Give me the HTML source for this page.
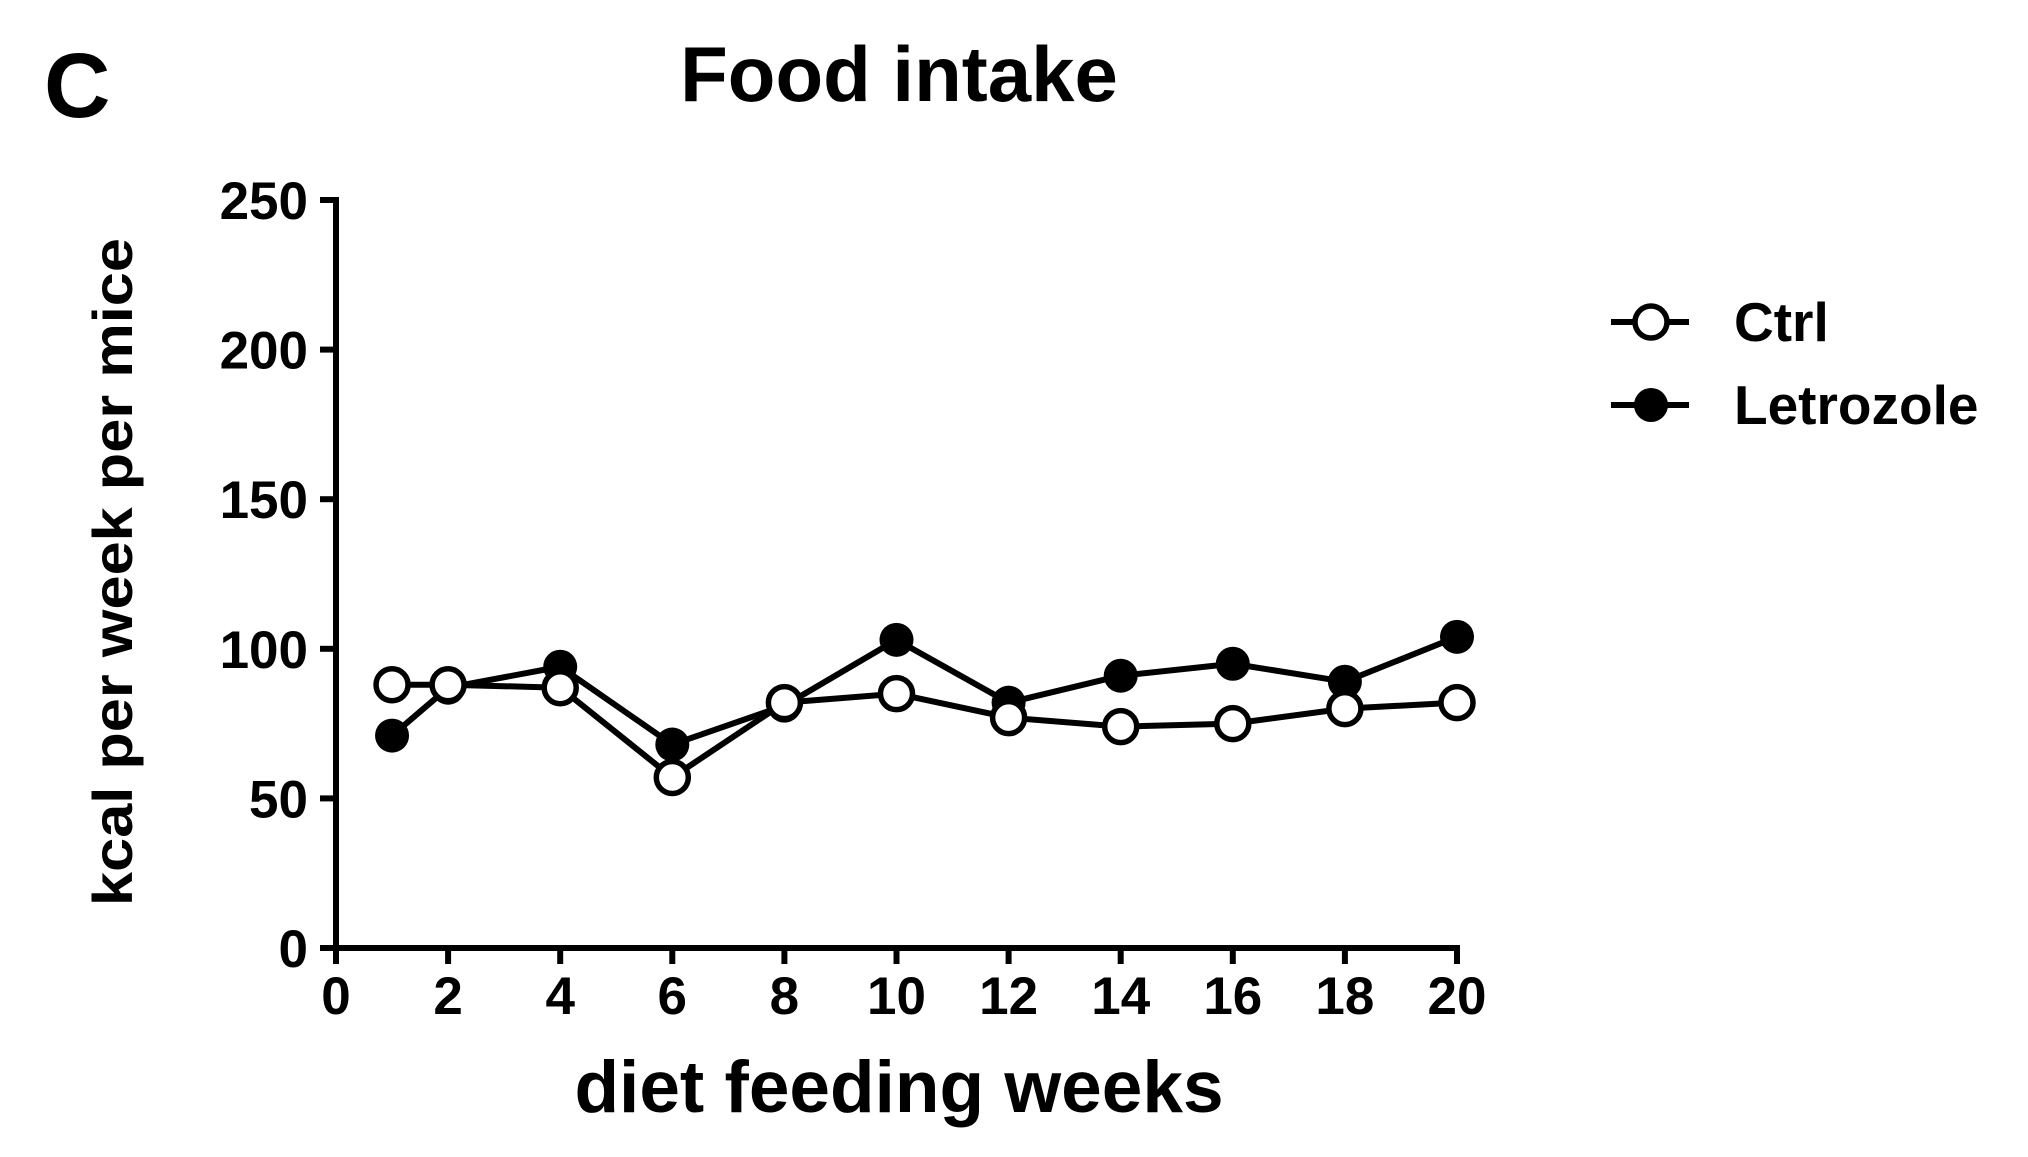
<!DOCTYPE html>
<html><head><meta charset="utf-8"><style>
html,body{margin:0;padding:0;background:#fff}
svg{display:block}
text{font-family:"Liberation Sans",Arial,sans-serif;font-weight:bold;fill:#000}
</style></head><body>
<svg id="chart" width="2028" height="1157" viewBox="0 0 2028 1157" xmlns="http://www.w3.org/2000/svg">
<text x="44" y="117" font-size="92">C</text>
<text x="899" y="101" font-size="78" text-anchor="middle">Food intake</text>
<text transform="translate(132,572) rotate(-90)" font-size="56" text-anchor="middle" textLength="668" lengthAdjust="spacingAndGlyphs">kcal per week per mice</text>
<text x="899" y="1112" font-size="73" text-anchor="middle">diet feeding weeks</text>
<g id="axes"></g><g id="series"></g>
<g>
<line x1="1611" y1="322" x2="1689" y2="322" stroke="#000" stroke-width="6"/>
<circle cx="1651" cy="322" r="16" fill="#fff" stroke="#000" stroke-width="5.5"/>
<text x="1734" y="341" font-size="55">Ctrl</text>
<line x1="1611" y1="405" x2="1689" y2="405" stroke="#000" stroke-width="6"/>
<circle cx="1651" cy="405" r="17" fill="#000"/>
<text x="1734" y="424" font-size="55">Letrozole</text>
</g>
</svg>
<script>
const weeks=[1,2,4,6,8,10,12,14,16,18,20];
const ctrlValues=[88,88,87,57,82,85,77,74,75,80,82];
const letrozoleValues=[71,87,94,68,81,103,82,91,95,89,104];
const xTicks=[0,2,4,6,8,10,12,14,16,18,20];
const yTicks=[0,50,100,150,200,250];
const NS="http://www.w3.org/2000/svg";
const X0=336,X1=1457,Y0=948,Y1=200;
const sx=v=>X0+(v-0)/20*(X1-X0);
const sy=v=>Y0-(v/250)*(Y0-Y1);
function mk(t,a,p){const e=document.createElementNS(NS,t);for(const k in a)e.setAttribute(k,a[k]);p.appendChild(e);return e;}
const ax=document.getElementById('axes');
let e=mk('line',{x1:X0,y1:Y1-3,x2:X0,y2:Y0+3,stroke:'#000','stroke-width':6},ax);


e=mk('line',{x1:X0-3,y1:Y0,x2:X1+3,y2:Y0,stroke:'#000','stroke-width':6},ax);


yTicks.forEach(v=>{
 const t=mk('line',{x1:X0-16,y1:sy(v),x2:X0,y2:sy(v),stroke:'#000','stroke-width':6},ax);
 
 
 const l=mk('text',{x:X0-28,y:sy(v)+19,'font-size':53,'text-anchor':'end'},ax);l.textContent=v;
 
 
});
xTicks.forEach(v=>{
 const t=mk('line',{x1:sx(v),y1:Y0,x2:sx(v),y2:Y0+16,stroke:'#000','stroke-width':6},ax);
 
 
 const l=mk('text',{x:sx(v),y:Y0+66,'font-size':53,'text-anchor':'middle'},ax);l.textContent=v;
 
 
});
const sg=document.getElementById('series');
function series(vals,name,filled){
 const pts=weeks.map((w,i)=>sx(w)+','+sy(vals[i])).join(' ');
 const pl=mk('polyline',{points:pts,fill:'none',stroke:'#000','stroke-width':6,'stroke-linejoin':'round'},sg);
 
 
 return ()=>weeks.forEach((w,i)=>{
  const c=filled?mk('circle',{cx:sx(w),cy:sy(vals[i]),r:17,fill:'#000'},sg):mk('circle',{cx:sx(w),cy:sy(vals[i]),r:16,fill:'#fff',stroke:'#000','stroke-width':5.5},sg);
  
  
 });
}
const dl=series(letrozoleValues,'letrozole',true);
const dc=series(ctrlValues,'ctrl',false);
dl();dc();
</script>
</body></html>
